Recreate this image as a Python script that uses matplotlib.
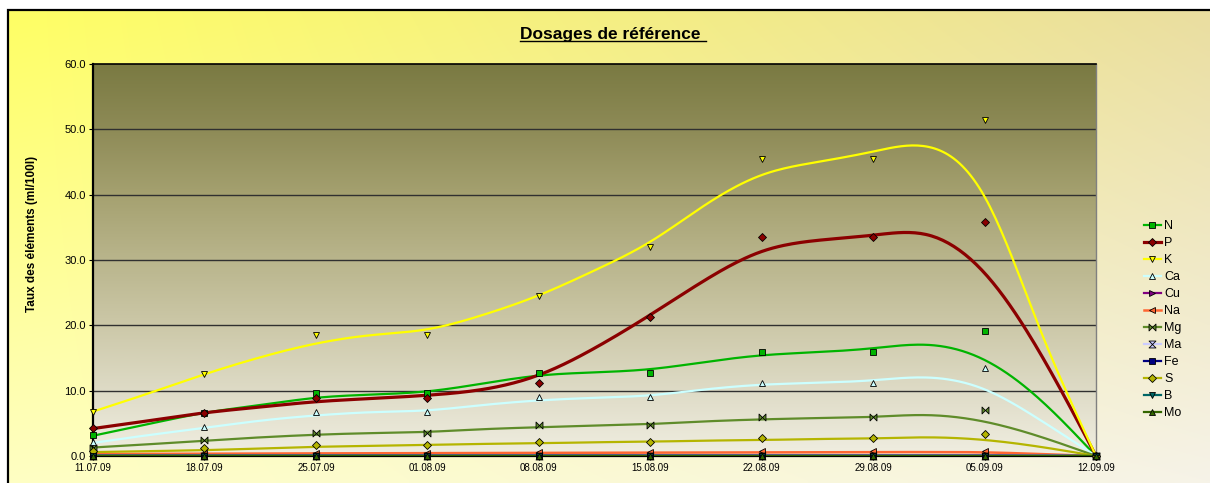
import numpy as np
import matplotlib
matplotlib.use("Agg")
import matplotlib.pyplot as plt
from matplotlib.lines import Line2D
from matplotlib.patches import Rectangle
from matplotlib.path import Path

plt.rcParams['font.family'] = ['Liberation Sans', 'DejaVu Sans']

# -----------------------------
# DATA
# -----------------------------
DATES = ["11.07.09", "18.07.09", "25.07.09", "01.08.09", "08.08.09",
         "15.08.09", "22.08.09", "29.08.09", "05.09.09", "12.09.09"]
ELEMENTS = ["N", "P", "K", "Ca", "Cu", "Na", "Mg", "Ma", "Fe", "S", "B", "Mo"]

# measured values (markers), one per date
N_PTS  = [3.2, 6.6, 9.6, 9.6, 12.75, 12.75, 15.9, 15.9, 19.1, 0]
P_PTS  = [4.3, 6.6, 8.9, 8.9, 11.1, 21.2, 33.5, 33.5, 35.8, 0]
K_PTS  = [6.7, 12.55, 18.5, 18.5, 24.5, 32.0, 45.5, 45.5, 51.4, 0]
CA_PTS = [2.2, 4.5, 6.8, 6.8, 9.1, 9.1, 11.2, 11.2, 13.5, 0]
CU_PTS = [0.05, 0.05, 0.05, 0.05, 0.05, 0.05, 0.05, 0.05, 0.05, 0]
NA_PTS = [0.3, 0.4, 0.5, 0.5, 0.6, 0.6, 0.7, 0.7, 0.8, 0]
MG_PTS = [1.2, 2.45, 3.5, 3.5, 4.75, 4.75, 5.9, 5.9, 7.0, 0]
MA_PTS = [0.05, 0.05, 0.05, 0.05, 0.05, 0.05, 0.05, 0.05, 0.05, 0]
FE_PTS = [0.02, 0.02, 0.02, 0.02, 0.02, 0.02, 0.02, 0.02, 0.02, 0]
S_PTS  = [0.7, 1.2, 1.7, 1.7, 2.2, 2.2, 2.7, 2.7, 3.3, 0]
B_PTS  = [0.02, 0.02, 0.02, 0.02, 0.02, 0.02, 0.02, 0.02, 0.02, 0]
MO_PTS = [0.05, 0.05, 0.05, 0.05, 0.05, 0.05, 0.05, 0.05, 0.05, 0]

# smoothed reference curves, read every half week (11.07 ... 12.09)
N_CURVE  = [3.1, 4.9, 6.6, 7.8, 8.9, 9.4, 9.9, 11.1, 12.3, 12.8, 13.3,
            14.4, 15.4, 15.9, 16.5, 17.0, 14.7, 8.6, 0]
P_CURVE  = [4.2, 5.4, 6.6, 7.5, 8.3, 8.8, 9.3, 10.2, 12.4, 16.5, 21.6,
            27.0, 31.3, 33.0, 33.8, 33.8, 28.0, 15.7, 0]
K_CURVE  = [6.8, 9.6, 12.5, 15.1, 17.2, 18.5, 19.4, 21.6, 24.6, 28.4, 32.8,
            38.5, 43.0, 45.0, 46.6, 47.3, 39.7, 19.3, 0]
CA_CURVE = [2.0, 3.2, 4.3, 5.4, 6.2, 6.7, 7.0, 7.8, 8.5, 8.9, 9.3,
            10.2, 10.9, 11.2, 11.6, 12.0, 10.2, 5.5, 0]
CU_CURVE = [0.1] * 18 + [0]
NA_CURVE = [0.3, 0.33, 0.36, 0.38, 0.4, 0.42, 0.44, 0.46, 0.48, 0.5, 0.52,
            0.54, 0.56, 0.58, 0.6, 0.6, 0.55, 0.3, 0]
MG_CURVE = [1.3, 1.8, 2.35, 2.85, 3.25, 3.5, 3.7, 4.1, 4.4, 4.65, 4.9,
            5.3, 5.6, 5.8, 6.0, 6.25, 5.25, 2.95, 0]
MA_CURVE = [0.08] * 18 + [0]
FE_CURVE = [0.05] * 18 + [0]
S_CURVE  = [0.6, 0.75, 0.9, 1.15, 1.4, 1.55, 1.7, 1.85, 1.95, 2.1, 2.2,
            2.35, 2.45, 2.6, 2.7, 2.85, 2.45, 1.4, 0]
B_CURVE  = [0.03] * 18 + [0]
MO_CURVE = [0.02] * 18 + [0]

POINTS = [N_PTS, P_PTS, K_PTS, CA_PTS, CU_PTS, NA_PTS, MG_PTS, MA_PTS,
          FE_PTS, S_PTS, B_PTS, MO_PTS]
CURVES = [N_CURVE, P_CURVE, K_CURVE, CA_CURVE, CU_CURVE, NA_CURVE, MG_CURVE,
          MA_CURVE, FE_CURVE, S_CURVE, B_CURVE, MO_CURVE]

# -----------------------------
# STYLES
# -----------------------------
bowtie = Path([(-1, -1), (-1, 1), (1, -1), (1, 1), (-1, -1)],
              [Path.MOVETO, Path.LINETO, Path.LINETO, Path.LINETO, Path.CLOSEPOLY])
hourglass = Path([(-1, 1), (1, 1), (-1, -1), (1, -1), (-1, 1)],
                 [Path.MOVETO, Path.LINETO, Path.LINETO, Path.LINETO, Path.CLOSEPOLY])

COLORS = ["#00B400", "#8B0000", "#FFFF00", "#CCFFFF", "#800080", "#FF6633",
          "#5F8C2A", "#CCCCFF", "#000080", "#B5B500", "#006666", "#336600"]
MARKERS = ["s", "D", "v", "^", ">", "<", bowtie, hourglass, "s", "D", "v", "^"]
MSIZES = [4.8, 3.8, 5, 5, 5, 5, 5, 5, 4.8, 3.8, 5, 5]
WIDTHS = [1.6, 2.3, 1.6, 1.6, 1.6, 1.8, 1.6, 1.6, 1.6, 1.6, 1.6, 1.6]


def smooth(vals, n=20):
    """Spline cubique naturelle sur les points lus (pas d'une demi-semaine)."""
    y = np.asarray(vals, float)
    m = len(y)
    h = 0.5
    A = np.zeros((m, m))
    r = np.zeros(m)
    A[0, 0] = A[-1, -1] = 1
    for i in range(1, m - 1):
        A[i, i - 1], A[i, i], A[i, i + 1] = h, 4 * h, h
        r[i] = 6 * (y[i + 1] - 2 * y[i] + y[i - 1]) / h
    M = np.linalg.solve(A, r)
    t = np.linspace(0, h, n, endpoint=False)
    xs, ys = [], []
    for i in range(m - 1):
        a = (M[i + 1] - M[i]) / (6 * h)
        b = M[i] / 2
        c = (y[i + 1] - y[i]) / h - h * (2 * M[i] + M[i + 1]) / 6
        xs.append(i * h + t)
        ys.append(y[i] + c * t + b * t ** 2 + a * t ** 3)
    xs.append([(m - 1) * h])
    ys.append([y[-1]])
    return np.concatenate(xs), np.concatenate(ys)


# -----------------------------
# FIGURE
# -----------------------------
W, H = 1210, 483
fig = plt.figure(figsize=(W / 100, H / 100), dpi=100)
fig.patch.set_facecolor("white")

# fond jaune en dégradé
bg = fig.add_axes([0, 0, 1, 1], zorder=-10)
bg.set_axis_off()
gy, gx = np.mgrid[0:1:120j, 0:1:240j]
tl = np.array([255, 255, 100]) / 255
tr = np.array([234, 222, 160]) / 255
bl = np.array([255, 255, 195]) / 255
br = np.array([246, 243, 232]) / 255
grad = ((1 - gx)[..., None] * (1 - gy)[..., None] * tl + gx[..., None] * (1 - gy)[..., None] * tr
        + (1 - gx)[..., None] * gy[..., None] * bl + gx[..., None] * gy[..., None] * br)
x0, y1 = 8 / W, 1 - 10 / H
bg.imshow(grad, extent=(x0, 1, 0, y1), aspect="auto", interpolation="bilinear")
bg.set_xlim(0, 1)
bg.set_ylim(0, 1)
bg.add_patch(Rectangle((x0, -0.01), 1.0, y1 + 0.01, fill=False, ec="black", lw=1.6))

ax = fig.add_axes([93 / W, 1 - 456 / H, (1096 - 93) / W, (456 - 64) / H])
ax.set_facecolor("none")

# dégradé de la zone de tracé
stops = np.array([[240, 238, 225], [222, 219, 198], [204, 200, 168], [185, 181, 140],
                  [165, 161, 112], [142, 139, 87], [122, 122, 66]]) / 255
yy = np.linspace(0, 6, 200)
col = np.stack([np.interp(yy, np.arange(7), stops[:, c]) for c in range(3)], axis=-1)
ax.imshow(col[::-1, None, :], extent=(0, 9, 0, 60), aspect="auto", zorder=0,
          interpolation="bilinear")

for yv in range(10, 60, 10):
    ax.axhline(yv, color="#303030", lw=1.0, zorder=1)

xi = np.arange(len(DATES))
for name, pts, curve, c, m, ms, lw in zip(ELEMENTS, POINTS, CURVES, COLORS, MARKERS,
                                          MSIZES, WIDTHS):
    cx, cy = smooth(curve)
    ax.plot(cx, cy, color=c, lw=lw, zorder=3, solid_capstyle="round")
    ax.plot(xi, pts, ls="none", marker=m, ms=ms, mfc=c, mec="black", mew=0.6,
            zorder=4, clip_on=False)

ax.set_xlim(0, 9)
ax.set_ylim(0, 60)
ax.set_xticks(xi)
ax.set_xticklabels(DATES, fontsize=7)
ax.set_yticks(np.arange(0, 61, 10))
ax.set_yticklabels([f"{v:.1f}" for v in range(0, 61, 10)], fontsize=8)
ax.tick_params(axis="both", length=3, width=0.8, pad=2, colors="black")
for s in ["left", "bottom", "top"]:
    ax.spines[s].set_color("black")
ax.spines["left"].set_linewidth(1.6)
ax.spines["bottom"].set_linewidth(1.6)
ax.spines["top"].set_linewidth(1.2)
ax.spines["right"].set_color("#808080")
ax.spines["right"].set_linewidth(1.0)

fig.text(32 / W, 1 - 234 / H, "Taux des éléments (ml/100l)", rotation=90,
         ha="center", va="center", fontsize=8.5, fontweight="bold")

title = fig.text(613 / W, 1 - 34 / H, "Dosages de référence ", ha="center", va="center",
                 fontsize=12.5, fontweight="bold")

handles = [Line2D([], [], color=c, lw=lw, marker=m, ms=ms, mfc=c, mec="black", mew=0.6)
           for c, m, ms, lw in zip(COLORS, MARKERS, MSIZES, WIDTHS)]
fig.legend(handles, ELEMENTS, loc="upper left", bbox_to_anchor=(1138 / W, 1 - 214 / H),
           frameon=False, fontsize=9, handlelength=1.3, handletextpad=0.3,
           labelspacing=0.4, borderpad=0)

# soulignement du titre
fig.canvas.draw()
bb = title.get_window_extent().transformed(fig.transFigure.inverted())
fig.add_artist(Line2D([bb.x0, bb.x1], [bb.y0 + 0.002, bb.y0 + 0.002],
                      transform=fig.transFigure, color="black", lw=1.0))

fig.savefig("out.png", dpi=100)
